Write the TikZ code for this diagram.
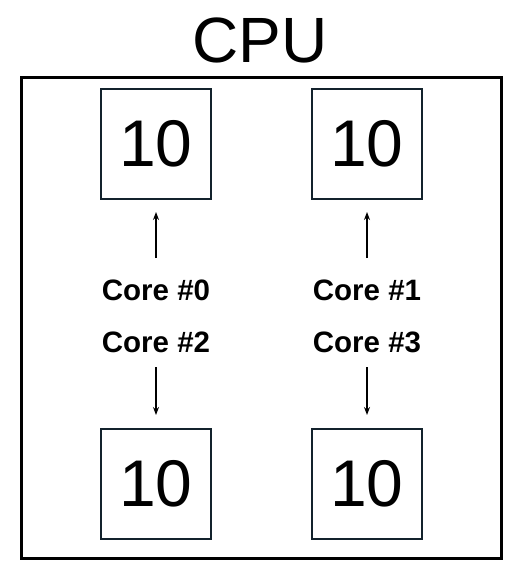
\documentclass[tikz,border=0pt]{standalone}
\usepackage{fontspec}
\setmainfont{Liberation Sans}
\usetikzlibrary{arrows.meta}
\definecolor{boxc}{HTML}{13222C}
\begin{document}
\begin{tikzpicture}[x=1pt,y=-1pt,
  valbox/.style={draw=boxc,line width=2pt,minimum width=110pt,minimum height=110pt,inner sep=0pt,font=\fontsize{66}{66}\selectfont},
  corelbl/.style={font=\bfseries\fontsize{29.5}{29.5}\selectfont,inner sep=0pt},
  arr/.style={-{Stealth[length=8pt,width=6pt]},line width=1.4pt}]
\useasboundingbox (0,0) rectangle (525,580);
\node[font=\fontsize{64}{64}\selectfont,inner sep=0pt] (title) at (260,40) {CPU};
\draw[line width=3pt] (21,78) rectangle (501,558);
\node[valbox] (b0) at (156,144) {10};
\node[valbox] (b1) at (367,144) {10};
\node[valbox] (b2) at (156,484) {10};
\node[valbox] (b3) at (367,484) {10};
\node[corelbl] (c0) at (156,290) {Core \#0};
\node[corelbl] (c1) at (367,290) {Core \#1};
\node[corelbl] (c2) at (156,342) {Core \#2};
\node[corelbl] (c3) at (367,342) {Core \#3};
\coordinate (a0) at (156,258);
\coordinate (a1) at (367,258);
\coordinate (a2) at (156,367);
\coordinate (a3) at (367,367);
\draw[arr] (a0) -- (156,212);
\draw[arr] (a1) -- (367,212);
\draw[arr] (a2) -- (156,415);
\draw[arr] (a3) -- (367,415);
\end{tikzpicture}
\end{document}
